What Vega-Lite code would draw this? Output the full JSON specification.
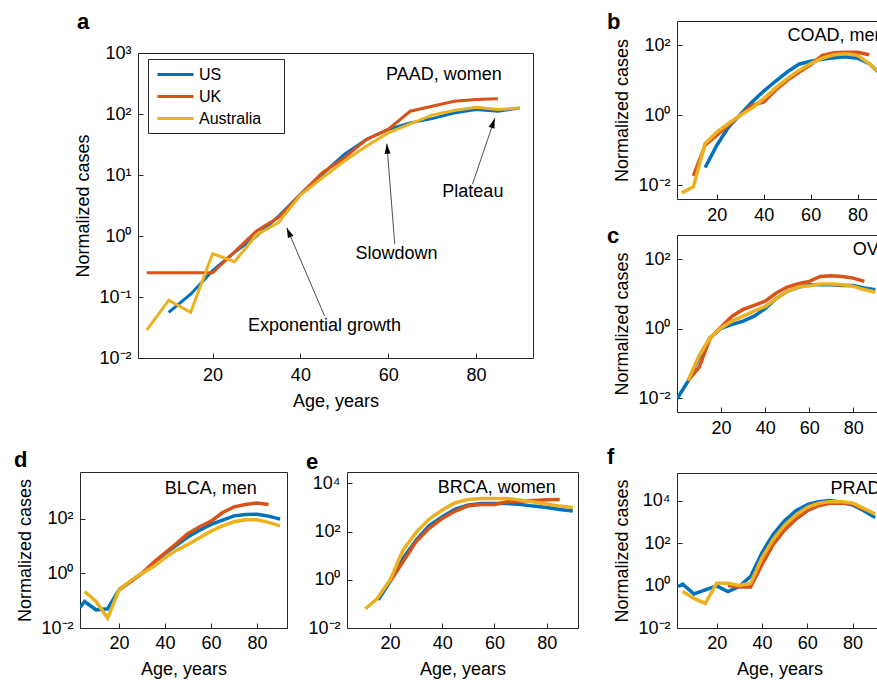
{
  "$schema": "https://vega.github.io/schema/vega-lite/v6.json",
  "padding": {"left": 13, "top": 10, "right": 0, "bottom": 0},
  "background": "white",
  "datasets": {
    "curves": [
      {"p":"a","c":"US","age":10,"v":0.056},{"p":"a","c":"US","age":15,"v":0.111},{"p":"a","c":"US","age":20,"v":0.27},{"p":"a","c":"US","age":25,"v":0.54},{"p":"a","c":"US","age":30,"v":1.0},{"p":"a","c":"US","age":35,"v":2.1},{"p":"a","c":"US","age":40,"v":4.8},{"p":"a","c":"US","age":45,"v":10.3},{"p":"a","c":"US","age":50,"v":21.7},{"p":"a","c":"US","age":55,"v":38},{"p":"a","c":"US","age":60,"v":55.7},{"p":"a","c":"US","age":65,"v":71.6},{"p":"a","c":"US","age":70,"v":84},{"p":"a","c":"US","age":75,"v":104},{"p":"a","c":"US","age":80,"v":118},{"p":"a","c":"US","age":85,"v":111},{"p":"a","c":"US","age":90,"v":126},
      {"p":"a","c":"UK","age":5,"v":0.25},{"p":"a","c":"UK","age":10,"v":0.25},{"p":"a","c":"UK","age":15,"v":0.25},{"p":"a","c":"UK","age":20,"v":0.25},{"p":"a","c":"UK","age":25,"v":0.55},{"p":"a","c":"UK","age":30,"v":1.21},{"p":"a","c":"UK","age":35,"v":2.0},{"p":"a","c":"UK","age":40,"v":4.8},{"p":"a","c":"UK","age":45,"v":10.9},{"p":"a","c":"UK","age":50,"v":19},{"p":"a","c":"UK","age":55,"v":38},{"p":"a","c":"UK","age":60,"v":56},{"p":"a","c":"UK","age":65,"v":111},{"p":"a","c":"UK","age":70,"v":134},{"p":"a","c":"UK","age":75,"v":162},{"p":"a","c":"UK","age":80,"v":173},{"p":"a","c":"UK","age":85,"v":177},
      {"p":"a","c":"Australia","age":5,"v":0.0287},{"p":"a","c":"Australia","age":10,"v":0.089},{"p":"a","c":"Australia","age":15,"v":0.056},{"p":"a","c":"Australia","age":20,"v":0.515},{"p":"a","c":"Australia","age":25,"v":0.38},{"p":"a","c":"Australia","age":30,"v":1.04},{"p":"a","c":"Australia","age":35,"v":1.66},{"p":"a","c":"Australia","age":40,"v":4.7},{"p":"a","c":"Australia","age":45,"v":9.0},{"p":"a","c":"Australia","age":50,"v":16.9},{"p":"a","c":"Australia","age":55,"v":29.7},{"p":"a","c":"Australia","age":60,"v":49},{"p":"a","c":"Australia","age":65,"v":69},{"p":"a","c":"Australia","age":70,"v":96},{"p":"a","c":"Australia","age":75,"v":114},{"p":"a","c":"Australia","age":80,"v":129},{"p":"a","c":"Australia","age":85,"v":118},{"p":"a","c":"Australia","age":90,"v":126},

      {"p":"b","c":"US","age":15,"v":0.032},{"p":"b","c":"US","age":20,"v":0.139},{"p":"b","c":"US","age":25,"v":0.46},{"p":"b","c":"US","age":30,"v":1.05},{"p":"b","c":"US","age":35,"v":2.4},{"p":"b","c":"US","age":40,"v":4.9},{"p":"b","c":"US","age":45,"v":9.4},{"p":"b","c":"US","age":50,"v":17.3},{"p":"b","c":"US","age":55,"v":29},{"p":"b","c":"US","age":60,"v":35},{"p":"b","c":"US","age":65,"v":40},{"p":"b","c":"US","age":70,"v":44},{"p":"b","c":"US","age":75,"v":47},{"p":"b","c":"US","age":80,"v":43},{"p":"b","c":"US","age":85,"v":30},{"p":"b","c":"US","age":90,"v":15},
      {"p":"b","c":"UK","age":10,"v":0.0185},{"p":"b","c":"UK","age":15,"v":0.139},{"p":"b","c":"UK","age":20,"v":0.27},{"p":"b","c":"UK","age":25,"v":0.52},{"p":"b","c":"UK","age":30,"v":1.0},{"p":"b","c":"UK","age":35,"v":1.93},{"p":"b","c":"UK","age":40,"v":2.4},{"p":"b","c":"UK","age":45,"v":5.2},{"p":"b","c":"UK","age":50,"v":10},{"p":"b","c":"UK","age":55,"v":17},{"p":"b","c":"UK","age":60,"v":28},{"p":"b","c":"UK","age":65,"v":52},{"p":"b","c":"UK","age":70,"v":62},{"p":"b","c":"UK","age":75,"v":64},{"p":"b","c":"UK","age":80,"v":64},{"p":"b","c":"UK","age":85,"v":54},
      {"p":"b","c":"Australia","age":5,"v":0.006},{"p":"b","c":"Australia","age":10,"v":0.009},{"p":"b","c":"Australia","age":15,"v":0.155},{"p":"b","c":"Australia","age":20,"v":0.33},{"p":"b","c":"Australia","age":25,"v":0.58},{"p":"b","c":"Australia","age":30,"v":1.0},{"p":"b","c":"Australia","age":35,"v":1.6},{"p":"b","c":"Australia","age":40,"v":3.0},{"p":"b","c":"Australia","age":45,"v":6.0},{"p":"b","c":"Australia","age":50,"v":11.2},{"p":"b","c":"Australia","age":55,"v":19.3},{"p":"b","c":"Australia","age":60,"v":30},{"p":"b","c":"Australia","age":65,"v":43},{"p":"b","c":"Australia","age":70,"v":54},{"p":"b","c":"Australia","age":75,"v":58},{"p":"b","c":"Australia","age":80,"v":52},{"p":"b","c":"Australia","age":85,"v":30},{"p":"b","c":"Australia","age":90,"v":15.5},

      {"p":"c","c":"US","age":0,"v":0.0096},{"p":"c","c":"US","age":5,"v":0.031},{"p":"c","c":"US","age":10,"v":0.148},{"p":"c","c":"US","age":15,"v":0.55},{"p":"c","c":"US","age":20,"v":1.02},{"p":"c","c":"US","age":25,"v":1.33},{"p":"c","c":"US","age":30,"v":1.66},{"p":"c","c":"US","age":35,"v":2.3},{"p":"c","c":"US","age":40,"v":3.8},{"p":"c","c":"US","age":45,"v":7.4},{"p":"c","c":"US","age":50,"v":11.9},{"p":"c","c":"US","age":55,"v":15.5},{"p":"c","c":"US","age":60,"v":18.5},{"p":"c","c":"US","age":65,"v":18.5},{"p":"c","c":"US","age":70,"v":18.5},{"p":"c","c":"US","age":75,"v":17.7},{"p":"c","c":"US","age":80,"v":17.7},{"p":"c","c":"US","age":85,"v":14.8},{"p":"c","c":"US","age":90,"v":13.3},
      {"p":"c","c":"UK","age":5,"v":0.032},{"p":"c","c":"UK","age":10,"v":0.077},{"p":"c","c":"UK","age":15,"v":0.53},{"p":"c","c":"UK","age":20,"v":1.12},{"p":"c","c":"UK","age":25,"v":2.3},{"p":"c","c":"UK","age":30,"v":3.6},{"p":"c","c":"UK","age":35,"v":4.7},{"p":"c","c":"UK","age":40,"v":6.2},{"p":"c","c":"UK","age":45,"v":10.7},{"p":"c","c":"UK","age":50,"v":15.9},{"p":"c","c":"UK","age":55,"v":19.7},{"p":"c","c":"UK","age":60,"v":23},{"p":"c","c":"UK","age":65,"v":32},{"p":"c","c":"UK","age":70,"v":33.4},{"p":"c","c":"UK","age":75,"v":32},{"p":"c","c":"UK","age":80,"v":28.7},{"p":"c","c":"UK","age":85,"v":23},
      {"p":"c","c":"Australia","age":5,"v":0.032},{"p":"c","c":"Australia","age":10,"v":0.166},{"p":"c","c":"Australia","age":15,"v":0.55},{"p":"c","c":"Australia","age":20,"v":1.05},{"p":"c","c":"Australia","age":25,"v":1.66},{"p":"c","c":"Australia","age":30,"v":2.3},{"p":"c","c":"Australia","age":35,"v":3.2},{"p":"c","c":"Australia","age":40,"v":4.4},{"p":"c","c":"Australia","age":45,"v":7.4},{"p":"c","c":"Australia","age":50,"v":11.9},{"p":"c","c":"Australia","age":55,"v":15.9},{"p":"c","c":"Australia","age":60,"v":17.3},{"p":"c","c":"Australia","age":65,"v":19.3},{"p":"c","c":"Australia","age":70,"v":19.3},{"p":"c","c":"Australia","age":75,"v":18.5},{"p":"c","c":"Australia","age":80,"v":16.6},{"p":"c","c":"Australia","age":85,"v":13.3},{"p":"c","c":"Australia","age":90,"v":11.4},

      {"p":"d","c":"US","age":3,"v":0.056},{"p":"d","c":"US","age":5,"v":0.093},{"p":"d","c":"US","age":10,"v":0.046},{"p":"d","c":"US","age":15,"v":0.05},{"p":"d","c":"US","age":20,"v":0.25},{"p":"d","c":"US","age":25,"v":0.5},{"p":"d","c":"US","age":30,"v":1.0},{"p":"d","c":"US","age":35,"v":2.3},{"p":"d","c":"US","age":40,"v":5.3},{"p":"d","c":"US","age":45,"v":10.7},{"p":"d","c":"US","age":50,"v":21.5},{"p":"d","c":"US","age":55,"v":37.6},{"p":"d","c":"US","age":60,"v":60.5},{"p":"d","c":"US","age":65,"v":87},{"p":"d","c":"US","age":70,"v":125},{"p":"d","c":"US","age":75,"v":140},{"p":"d","c":"US","age":80,"v":144},{"p":"d","c":"US","age":85,"v":122},{"p":"d","c":"US","age":90,"v":95},
      {"p":"d","c":"UK","age":20,"v":0.25},{"p":"d","c":"UK","age":25,"v":0.5},{"p":"d","c":"UK","age":30,"v":1.0},{"p":"d","c":"UK","age":35,"v":2.5},{"p":"d","c":"UK","age":40,"v":5.6},{"p":"d","c":"UK","age":45,"v":12.3},{"p":"d","c":"UK","age":50,"v":28.5},{"p":"d","c":"UK","age":55,"v":50},{"p":"d","c":"UK","age":60,"v":80},{"p":"d","c":"UK","age":65,"v":165},{"p":"d","c":"UK","age":70,"v":266},{"p":"d","c":"UK","age":75,"v":323},{"p":"d","c":"UK","age":80,"v":371},{"p":"d","c":"UK","age":85,"v":323},
      {"p":"d","c":"Australia","age":5,"v":0.215},{"p":"d","c":"Australia","age":10,"v":0.093},{"p":"d","c":"Australia","age":15,"v":0.023},{"p":"d","c":"Australia","age":20,"v":0.25},{"p":"d","c":"Australia","age":25,"v":0.53},{"p":"d","c":"Australia","age":30,"v":1.0},{"p":"d","c":"Australia","age":35,"v":1.75},{"p":"d","c":"Australia","age":40,"v":3.7},{"p":"d","c":"Australia","age":45,"v":7},{"p":"d","c":"Australia","age":50,"v":11.3},{"p":"d","c":"Australia","age":55,"v":19.8},{"p":"d","c":"Australia","age":60,"v":34.6},{"p":"d","c":"Australia","age":65,"v":54},{"p":"d","c":"Australia","age":70,"v":76},{"p":"d","c":"Australia","age":75,"v":89.5},{"p":"d","c":"Australia","age":80,"v":89.5},{"p":"d","c":"Australia","age":85,"v":72},{"p":"d","c":"Australia","age":90,"v":54},

      {"p":"e","c":"US","age":15.5,"v":0.149},{"p":"e","c":"US","age":20,"v":0.85},{"p":"e","c":"US","age":25,"v":7.9},{"p":"e","c":"US","age":30,"v":45},{"p":"e","c":"US","age":35,"v":177},{"p":"e","c":"US","age":40,"v":417},{"p":"e","c":"US","age":45,"v":866},{"p":"e","c":"US","age":50,"v":1270},{"p":"e","c":"US","age":55,"v":1490},{"p":"e","c":"US","age":60,"v":1490},{"p":"e","c":"US","age":65,"v":1490},{"p":"e","c":"US","age":70,"v":1350},{"p":"e","c":"US","age":75,"v":1150},{"p":"e","c":"US","age":80,"v":1016},{"p":"e","c":"US","age":85,"v":840},{"p":"e","c":"US","age":90,"v":717},
      {"p":"e","c":"UK","age":20,"v":0.85},{"p":"e","c":"UK","age":25,"v":5.7},{"p":"e","c":"UK","age":30,"v":38.5},{"p":"e","c":"UK","age":35,"v":137},{"p":"e","c":"UK","age":40,"v":355},{"p":"e","c":"UK","age":45,"v":717},{"p":"e","c":"UK","age":50,"v":1190},{"p":"e","c":"UK","age":55,"v":1350},{"p":"e","c":"UK","age":60,"v":1350},{"p":"e","c":"UK","age":65,"v":1740},{"p":"e","c":"UK","age":70,"v":1860},{"p":"e","c":"UK","age":75,"v":1980},{"p":"e","c":"UK","age":80,"v":2110},{"p":"e","c":"UK","age":85,"v":2180},
      {"p":"e","c":"Australia","age":10.5,"v":0.063},{"p":"e","c":"Australia","age":15,"v":0.164},{"p":"e","c":"Australia","age":20,"v":1.0},{"p":"e","c":"Australia","age":25,"v":17.4},{"p":"e","c":"Australia","age":30,"v":94},{"p":"e","c":"Australia","age":35,"v":334},{"p":"e","c":"Australia","age":40,"v":788},{"p":"e","c":"Australia","age":45,"v":1585},{"p":"e","c":"Australia","age":50,"v":2180},{"p":"e","c":"Australia","age":55,"v":2390},{"p":"e","c":"Australia","age":60,"v":2390},{"p":"e","c":"Australia","age":65,"v":2390},{"p":"e","c":"Australia","age":70,"v":2040},{"p":"e","c":"Australia","age":75,"v":1700},{"p":"e","c":"Australia","age":80,"v":1400},{"p":"e","c":"Australia","age":85,"v":1150},{"p":"e","c":"Australia","age":90,"v":1000},

      {"p":"f","c":"US","age":3,"v":0.9},{"p":"f","c":"US","age":5,"v":1.16},{"p":"f","c":"US","age":10,"v":0.4},{"p":"f","c":"US","age":15,"v":0.62},{"p":"f","c":"US","age":20,"v":0.96},{"p":"f","c":"US","age":25,"v":0.52},{"p":"f","c":"US","age":30,"v":0.9},{"p":"f","c":"US","age":35,"v":2.7},{"p":"f","c":"US","age":40,"v":35},{"p":"f","c":"US","age":45,"v":259},{"p":"f","c":"US","age":50,"v":1117},{"p":"f","c":"US","age":55,"v":3340},{"p":"f","c":"US","age":60,"v":6450},{"p":"f","c":"US","age":65,"v":8960},{"p":"f","c":"US","age":70,"v":10000},{"p":"f","c":"US","age":75,"v":8330},{"p":"f","c":"US","age":80,"v":6220},{"p":"f","c":"US","age":85,"v":3340},{"p":"f","c":"US","age":90,"v":1600},
      {"p":"f","c":"UK","age":25,"v":1.0},{"p":"f","c":"UK","age":30,"v":0.85},{"p":"f","c":"UK","age":35,"v":0.85},{"p":"f","c":"UK","age":40,"v":9.6},{"p":"f","c":"UK","age":45,"v":86.5},{"p":"f","c":"UK","age":50,"v":416},{"p":"f","c":"UK","age":55,"v":1340},{"p":"f","c":"UK","age":60,"v":3340},{"p":"f","c":"UK","age":65,"v":5780},{"p":"f","c":"UK","age":70,"v":7460},{"p":"f","c":"UK","age":75,"v":7740},{"p":"f","c":"UK","age":80,"v":6940},{"p":"f","c":"UK","age":85,"v":3730},
      {"p":"f","c":"Australia","age":5,"v":0.52},{"p":"f","c":"Australia","age":10,"v":0.25},{"p":"f","c":"Australia","age":15,"v":0.144},{"p":"f","c":"Australia","age":20,"v":1.29},{"p":"f","c":"Australia","age":25,"v":1.29},{"p":"f","c":"Australia","age":30,"v":1.0},{"p":"f","c":"Australia","age":35,"v":1.29},{"p":"f","c":"Australia","age":40,"v":20},{"p":"f","c":"Australia","age":45,"v":150},{"p":"f","c":"Australia","age":50,"v":693},{"p":"f","c":"Australia","age":55,"v":2075},{"p":"f","c":"Australia","age":60,"v":4820},{"p":"f","c":"Australia","age":65,"v":7460},{"p":"f","c":"Australia","age":70,"v":8960},{"p":"f","c":"Australia","age":75,"v":8960},{"p":"f","c":"Australia","age":80,"v":7740},{"p":"f","c":"Australia","age":85,"v":4320},{"p":"f","c":"Australia","age":90,"v":2320}
    ],
    "labels": [
      {"p":"a","kind":"title","label":"PAAD, women","age":59.5,"v":443},
      {"p":"b","kind":"title","label":"COAD, men","age":50.1,"v":181},
      {"p":"c","kind":"title","label":"OV, women","age":79.7,"v":185},
      {"p":"d","kind":"title","label":"BLCA, men","age":39.8,"v":1230},
      {"p":"e","kind":"title","label":"BRCA, women","age":38.3,"v":6610},
      {"p":"f","kind":"title","label":"PRAD, men","age":70.3,"v":36000},
      {"p":"a","kind":"note","label":"Exponential growth","age":45.5,"v":0.0335},
      {"p":"a","kind":"note","label":"Slowdown","age":61.9,"v":0.51},
      {"p":"a","kind":"note","label":"Plateau","age":79.3,"v":5.3}
    ],
    "arrows": [
      {"id":"exp","age":45.5,"v":0.049,"age2":36.9,"v2":1.37},
      {"id":"slow","age":61.5,"v":0.73,"age2":59.7,"v2":32.6},
      {"id":"plat","age":79.2,"v":7.04,"age2":84.3,"v2":85}
    ]
  },
  "config": {
    "view": {"stroke": "#262626", "strokeWidth": 1},
    "font": "Liberation Sans",
    "axis": {
      "domain": false, "grid": false, "ticks": true, "tickSize": -5, "tickColor": "#262626",
      "labelFont": "Liberation Sans", "labelFontSize": 18, "labelColor": "#000",
      "titleFont": "Liberation Sans", "titleFontSize": 18, "titleFontWeight": "normal", "titleColor": "#000"
    },
    "axisX": {"labelPadding": 11, "titlePadding": 8},
    "axisY": {
      "labelPadding": 12, "titlePadding": 6,
      "labelExpr": "datum.value == 0.01 ? '10⁻²' : datum.value == 0.1 ? '10⁻¹' : datum.value == 1 ? '10⁰' : datum.value == 10 ? '10¹' : datum.value == 100 ? '10²' : datum.value == 1000 ? '10³' : '10⁴'"
    },
    "title": {"font": "Liberation Sans", "fontSize": 22, "fontWeight": "bold", "anchor": "start", "frame": "group", "baseline": "bottom", "color": "#000"},
    "legend": {
      "title": null, "labelFont": "Liberation Sans", "labelFontSize": 16, "labelColor": "#000",
      "strokeColor": "#262626", "fillColor": "white", "padding": 6, "rowPadding": 4,
      "symbolType": "M-2.25,0L2.25,0", "symbolSize": 256, "symbolStrokeWidth": 3, "symbolOffset": 12, "labelOffset": 14
    }
  },
  "hconcat": [
    {
      "vconcat": [
        {
          "vconcat": [
            {"width": 1, "height": 22, "data": {"values": []}, "mark": {"type": "point", "opacity": 0}, "view": {"stroke": null},
             "title": {"text": "a", "dx": -3, "offset": -12.6}},
            {
              "hconcat": [
                {"width": 1, "height": 10, "data": {"values": []}, "mark": {"type": "point", "opacity": 0}, "view": {"stroke": null}},
                {
                  "width": 395, "height": 305,
                  "layer": [
                    {
                      "data": {"name": "curves"},
                      "transform": [{"filter": "datum.p == 'a'"}],
                      "mark": {"type": "line", "strokeWidth": 3, "clip": true},
                      "encoding": {
                        "x": {"field": "age", "type": "quantitative", "scale": {"domain": [3, 93], "nice": false}, "axis": {"values": [20, 40, 60, 80], "title": "Age, years", "labelPadding": 13}},
                        "y": {"field": "v", "type": "quantitative", "scale": {"type": "log", "domain": [0.01, 1000], "nice": false}, "axis": {"values": [0.01, 0.1, 1, 10, 100, 1000], "title": "Normalized cases"}},
                        "color": {"field": "c", "type": "nominal", "sort": null,
                          "scale": {"domain": ["US", "UK", "Australia"], "range": ["#0072BD", "#D95319", "#EDB120"]},
                          "legend": {"orient": "none", "legendX": 10, "legendY": 6, "labelExpr": "datum.label + '\u00a0\u2800'"}}
                      }
                    },
                    {
                      "data": {"name": "arrows"},
                      "mark": {"type": "rule", "color": "#222", "strokeWidth": 0.8},
                      "encoding": {
                        "x": {"field": "age", "type": "quantitative"}, "x2": {"field": "age2"},
                        "y": {"field": "v", "type": "quantitative"}, "y2": {"field": "v2"}
                      }
                    },
                    {
                      "data": {"name": "arrows"},
                      "transform": [{"filter": "datum.id == 'exp'"}],
                      "mark": {"type": "point", "shape": "M0,0L-0.3,1L0.3,1Z", "filled": true, "color": "#000", "opacity": 1, "size": 400, "angle": 337},
                      "encoding": {"x": {"field": "age2", "type": "quantitative"}, "y": {"field": "v2", "type": "quantitative"}}
                    },
                    {
                      "data": {"name": "arrows"},
                      "transform": [{"filter": "datum.id == 'slow'"}],
                      "mark": {"type": "point", "shape": "M0,0L-0.3,1L0.3,1Z", "filled": true, "color": "#000", "opacity": 1, "size": 400, "angle": 356},
                      "encoding": {"x": {"field": "age2", "type": "quantitative"}, "y": {"field": "v2", "type": "quantitative"}}
                    },
                    {
                      "data": {"name": "arrows"},
                      "transform": [{"filter": "datum.id == 'plat'"}],
                      "mark": {"type": "point", "shape": "M0,0L-0.3,1L0.3,1Z", "filled": true, "color": "#000", "opacity": 1, "size": 400, "angle": 19},
                      "encoding": {"x": {"field": "age2", "type": "quantitative"}, "y": {"field": "v2", "type": "quantitative"}}
                    },
                    {
                      "data": {"name": "labels"},
                      "transform": [{"filter": "datum.p == 'a' && datum.kind == 'note'"}],
                      "mark": {"type": "text", "align": "center", "baseline": "middle", "fontSize": 18, "font": "Liberation Sans", "color": "#000"},
                      "encoding": {"x": {"field": "age", "type": "quantitative"}, "y": {"field": "v", "type": "quantitative"}, "text": {"field": "label"}}
                    },
                    {
                      "data": {"name": "labels"},
                      "transform": [{"filter": "datum.p == 'a' && datum.kind == 'title'"}],
                      "mark": {"type": "text", "align": "left", "baseline": "middle", "fontSize": 18, "font": "Liberation Sans", "color": "#000"},
                      "encoding": {"x": {"field": "age", "type": "quantitative"}, "y": {"field": "v", "type": "quantitative"}, "text": {"field": "label"}}
                    }
                  ]
                }
              ],
              "spacing": -7, "resolve": {"scale": {"color": "independent"}}
            }
          ],
          "spacing": 0, "resolve": {"scale": {"color": "independent"}}
        },
        {
          "hconcat": [
            {
              "width": 207, "height": 156,
              "title": {"text": "d", "dx": -66, "offset": 0.4},
              "layer": [
                {
                  "data": {"name": "curves"},
                  "transform": [{"filter": "datum.p == 'd'"}],
                  "mark": {"type": "line", "strokeWidth": 3.5, "clip": true},
                  "encoding": {
                    "x": {"field": "age", "type": "quantitative", "scale": {"domain": [3, 93], "nice": false}, "axis": {"values": [20, 40, 60, 80], "title": "Age, years"}},
                    "y": {"field": "v", "type": "quantitative", "scale": {"type": "log", "domain": [0.01, 5000], "nice": false}, "axis": {"values": [0.01, 1, 100], "title": "Normalized cases"}},
                    "color": {"field": "c", "type": "nominal", "sort": null, "scale": {"domain": ["US", "UK", "Australia"], "range": ["#0072BD", "#D95319", "#EDB120"]}, "legend": null}
                  }
                },
                {
                  "data": {"name": "labels"},
                  "transform": [{"filter": "datum.p == 'd'"}],
                  "mark": {"type": "text", "align": "left", "baseline": "middle", "fontSize": 18, "font": "Liberation Sans", "color": "#000"},
                  "encoding": {"x": {"field": "age", "type": "quantitative"}, "y": {"field": "v", "type": "quantitative"}, "text": {"field": "label"}}
                }
              ]
            },
            {
              "width": 231, "height": 156,
              "title": {"text": "e", "dx": -41, "offset": -1.6},
              "layer": [
                {
                  "data": {"name": "curves"},
                  "transform": [{"filter": "datum.p == 'e'"}],
                  "mark": {"type": "line", "strokeWidth": 3.5, "clip": true},
                  "encoding": {
                    "x": {"field": "age", "type": "quantitative", "scale": {"domain": [3.5, 92], "nice": false}, "axis": {"values": [20, 40, 60, 80], "title": "Age, years"}},
                    "y": {"field": "v", "type": "quantitative", "scale": {"type": "log", "domain": [0.01, 30000], "nice": false}, "axis": {"values": [0.01, 1, 100, 10000], "title": null}},
                    "color": {"field": "c", "type": "nominal", "sort": null, "scale": {"domain": ["US", "UK", "Australia"], "range": ["#0072BD", "#D95319", "#EDB120"]}, "legend": null}
                  }
                },
                {
                  "data": {"name": "labels"},
                  "transform": [{"filter": "datum.p == 'e'"}],
                  "mark": {"type": "text", "align": "left", "baseline": "middle", "fontSize": 18, "font": "Liberation Sans", "color": "#000"},
                  "encoding": {"x": {"field": "age", "type": "quantitative"}, "y": {"field": "v", "type": "quantitative"}, "text": {"field": "label"}}
                }
              ]
            }
          ],
          "spacing": 17, "resolve": {"scale": {"color": "independent"}}
        }
      ],
      "spacing": 37, "resolve": {"scale": {"color": "independent"}}
    },
    {
      "vconcat": [
        {
          "vconcat": [
            {
              "width": 211, "height": 178,
              "title": {"text": "b", "dx": -70, "offset": -12.6},
              "layer": [
                {
                  "data": {"name": "curves"},
                  "transform": [{"filter": "datum.p == 'b'"}],
                  "mark": {"type": "line", "strokeWidth": 3.5, "clip": true},
                  "encoding": {
                    "x": {"field": "age", "type": "quantitative", "scale": {"domain": [3, 93], "nice": false}, "axis": {"values": [20, 40, 60, 80], "title": null, "labelPadding": 12}},
                    "y": {"field": "v", "type": "quantitative", "scale": {"type": "log", "domain": [0.004, 500], "nice": false}, "axis": {"values": [0.01, 1, 100], "title": "Normalized cases"}},
                    "color": {"field": "c", "type": "nominal", "sort": null, "scale": {"domain": ["US", "UK", "Australia"], "range": ["#0072BD", "#D95319", "#EDB120"]}, "legend": null}
                  }
                },
                {
                  "data": {"name": "labels"},
                  "transform": [{"filter": "datum.p == 'b'"}],
                  "mark": {"type": "text", "align": "left", "baseline": "middle", "fontSize": 18, "font": "Liberation Sans", "color": "#000"},
                  "encoding": {"x": {"field": "age", "type": "quantitative"}, "y": {"field": "v", "type": "quantitative"}, "text": {"field": "label"}}
                }
              ]
            },
            {
              "width": 205, "height": 177,
              "title": {"text": "c", "dx": -70, "offset": -12.6},
              "layer": [
                {
                  "data": {"name": "curves"},
                  "transform": [{"filter": "datum.p == 'c'"}],
                  "mark": {"type": "line", "strokeWidth": 3.5, "clip": true},
                  "encoding": {
                    "x": {"field": "age", "type": "quantitative", "scale": {"domain": [0, 93], "nice": false}, "axis": {"values": [20, 40, 60, 80], "title": null, "labelPadding": 12}},
                    "y": {"field": "v", "type": "quantitative", "scale": {"type": "log", "domain": [0.004, 500], "nice": false}, "axis": {"values": [0.01, 1, 100], "title": "Normalized cases"}},
                    "color": {"field": "c", "type": "nominal", "sort": null, "scale": {"domain": ["US", "UK", "Australia"], "range": ["#0072BD", "#D95319", "#EDB120"]}, "legend": null}
                  }
                },
                {
                  "data": {"name": "labels"},
                  "transform": [{"filter": "datum.p == 'c'"}],
                  "mark": {"type": "text", "align": "left", "baseline": "middle", "fontSize": 18, "font": "Liberation Sans", "color": "#000"},
                  "encoding": {"x": {"field": "age", "type": "quantitative"}, "y": {"field": "v", "type": "quantitative"}, "text": {"field": "label"}}
                }
              ]
            }
          ],
          "spacing": -1, "resolve": {"scale": {"color": "independent"}}
        },
        {
          "width": 205, "height": 155,
          "title": {"text": "f", "dx": -70, "offset": 4.4},
          "layer": [
            {
              "data": {"name": "curves"},
              "transform": [{"filter": "datum.p == 'f'"}],
              "mark": {"type": "line", "strokeWidth": 3.5, "clip": true},
              "encoding": {
                "x": {"field": "age", "type": "quantitative", "scale": {"domain": [2.5, 93], "nice": false}, "axis": {"values": [20, 40, 60, 80], "title": "Age, years"}},
                "y": {"field": "v", "type": "quantitative", "scale": {"type": "log", "domain": [0.01, 200000], "nice": false}, "axis": {"values": [0.01, 1, 100, 10000], "title": "Normalized cases"}},
                "color": {"field": "c", "type": "nominal", "sort": null, "scale": {"domain": ["US", "UK", "Australia"], "range": ["#0072BD", "#D95319", "#EDB120"]}, "legend": null}
              }
            },
            {
              "data": {"name": "labels"},
              "transform": [{"filter": "datum.p == 'f'"}],
              "mark": {"type": "text", "align": "left", "baseline": "middle", "fontSize": 18, "font": "Liberation Sans", "color": "#000"},
              "encoding": {"x": {"field": "age", "type": "quantitative"}, "y": {"field": "v", "type": "quantitative"}, "text": {"field": "label"}}
            }
          ]
        }
      ],
      "spacing": 7, "resolve": {"scale": {"color": "independent"}}
    }
  ],
  "spacing": 27, "resolve": {"scale": {"color": "independent"}}
}
